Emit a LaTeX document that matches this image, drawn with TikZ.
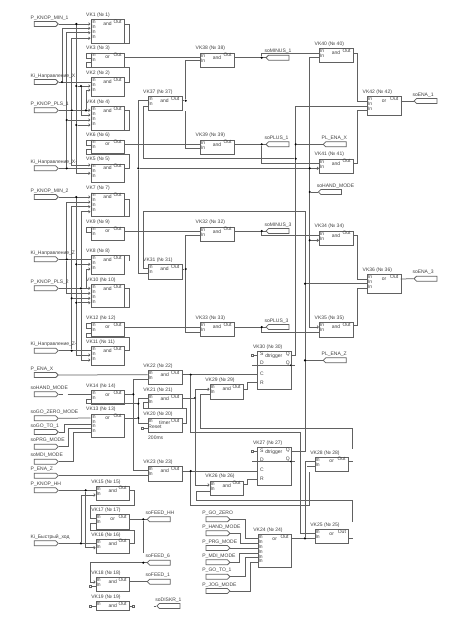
\documentclass[tikz,border=0pt]{standalone}
\usepackage{fontspec}
\setmainfont{Liberation Sans}
\usetikzlibrary{shapes.symbols,arrows.meta,backgrounds}
\definecolor{ln}{gray}{0.38}
\definecolor{tx}{gray}{0.25}
\tikzset{
  bx/.style={draw=ln,line width=.75pt,inner sep=0pt,anchor=north west},
  tt/.style={font=\fontsize{5}{5}\selectfont,text=tx,inner sep=0pt,anchor=west},
  w/.style={draw=ln,line width=.75pt},
  wa/.style={w,-{Straight Barb[length=1.4pt,width=2.6pt]}},
  dd/.style={circle,fill=black,inner sep=0pt,minimum size=2.4pt},
  sq/.style={rectangle,draw=ln,fill=white,line width=.6pt,inner sep=0pt,minimum size=2.2pt},
  sgi/.style={signal,signal to=east,draw=ln,line width=.75pt,inner sep=0pt,minimum height=5pt},
  sgo/.style={signal,signal to=west,draw=ln,line width=.75pt,inner sep=0pt,minimum height=5pt},
}
% name,x0,y0,x1,y1,title,type,pins,outy
\newcommand{\blk}[9]{%
  \pgfmathsetmacro{\bw}{#4-#2}\pgfmathsetmacro{\bh}{#5-#3}%
  \pgfmathsetmacro{\bmx}{#2+17}%
  \node[bx,minimum width=\bw pt,minimum height=\bh pt] (#1) at (#2,#3) {};
  \node[tt] (#1-t) at ({#2-4.5},{#3-4}) {#6};
  \node[tt,anchor=center] (#1-k) at (\bmx,{#3+4.7}) {#7};
  \node[tt,anchor=east] (#1-ou) at ({#4-2.2},{#3+2.3}) {Out};
  \coordinate (#1-o) at (#4,#9);
  \foreach \p [count=\n] in {#8}{%
    \coordinate (#1-\n) at (#2,\p);
    \pgfmathsetmacro{\ry}{#3+2.7+4.9*(\n-1)}%
    \node[tt] (#1-in\n) at ({#2+.7},\ry) {In};
  }}
% name,x0,y0,x1,y1,title
\newcommand{\trig}[6]{%
  \pgfmathsetmacro{\bw}{#4-#2}\pgfmathsetmacro{\bh}{#5-#3}%
  \node[bx,minimum width=\bw pt,minimum height=\bh pt] (#1) at (#2,#3) {};
  \node[tt] (#1-t) at ({#2-4.5},{#3-4}) {#6};
  \node[tt] (#1-ts) at ({#2+2.5},{#3+3.2}) {S};
  \node[tt,anchor=center] (#1-tk) at ({#2+16.5},{#3+4.8}) {dtrigger};
  \node[tt,anchor=east] (#1-tq) at ({#4-.8},{#3+3}) {Q};
  \node[tt] (#1-td) at ({#2+2.5},{#3+12.2}) {D};
  \node[tt,anchor=east] (#1-tqb) at ({#4-.8},{#3+12.2}) {Q};
  \node[tt] (#1-tc) at ({#2+2.5},{#3+22.3}) {C};
  \node[tt] (#1-tr) at ({#2+2.5},{#3+31.3}) {R};
  \coordinate (#1-q) at (#4,{#3+4.5});
  \coordinate (#1-qb) at (#4,{#3+14.2});
  \coordinate (#1-c) at (#2,{#3+23.7});
  \coordinate (#1-r) at (#2,{#3+31.7});
  \coordinate (#1-s) at (#2,{#3+4.3});
  \coordinate (#1-ll) at ({#2-5.3},{#3+14.2});
  \coordinate (#1-lr) at ({#4+4.3},{#3+14.2});
  \node[sq] (#1-sq) at ({#2-5.3},{#3+4.3}) {};
  \node[dd,minimum size=1.8pt] (#1-dq) at (#1-qb) {};
}
% input signal: name, x-centre, y, text
\newcommand{\sigi}[4]{\node[sgi,minimum width=24pt] (#1) at (#2,#3) {};
  \node[tt] (#1-l) at ({#2-14.5},{#3-6}) {#4};}
\newcommand{\sigo}[4]{\node[sgo,minimum width=23pt] (#1) at (#2,#3) {};
  \node[tt] (#1-l) at ({#2-14.5},{#3-6}) {#4};}
\newcommand{\dt}[3]{\node[dd] (#1) at (#2,#3) {};}
\begin{document}
\begin{tikzpicture}[x=1pt,y=-1pt]
\useasboundingbox (0,0) rectangle (458,621);
% ---- blocks
\blk{vk1}{90.5}{19}{124}{43}{VK1 (№ 1)}{and}{24,28.3,32.7,38.3}{24}
\blk{vk3}{90.5}{52.5}{124}{66.5}{VK3 (№ 3)}{or}{53.5,58.5}{57.3}
\blk{vk2}{90.5}{77}{124}{96}{VK2 (№ 2)}{and}{82,86,90}{82.3}
\blk{vk4}{90.5}{106}{124}{130}{VK4 (№ 4)}{and}{110.3,115,120,125}{110.3}
\blk{vk6}{90.5}{139.5}{124}{153}{VK6 (№ 6)}{or}{140.5,145}{144.3}
\blk{vk5}{90.5}{163.5}{124}{182}{VK5 (№ 5)}{and}{165,168.3,173.3}{168.3}
\blk{vk7}{90.5}{192.5}{124}{216}{VK7 (№ 7)}{and}{197,202,206.7,211.7}{199.3}
\blk{vk9}{90.5}{226.5}{124}{240}{VK9 (№ 9)}{or}{227.5,232.5}{231}
\blk{vk8}{90.5}{255}{124}{274}{VK8 (№ 8)}{and}{259.3,264.3,269}{255.5}
\blk{vk10}{90.5}{284}{124}{307}{VK10 (№ 10)}{and}{288.3,293.3,298.3,302.7}{288.3}
\blk{vk12}{90.5}{322}{124}{336}{VK12 (№ 12)}{or}{323,328}{327}
\blk{vk11}{90.5}{346}{124}{365}{VK11 (№ 11)}{and}{350.7,355,360}{350}
\blk{vk37}{147.5}{96}{181.7}{110.3}{VK37 (№ 37)}{and}{100,106}{100.7}
\blk{vk38}{200}{52.7}{234}{66.7}{VK38 (№ 38)}{and}{57.3,60.7}{57.7}
\blk{vk39}{200}{139.7}{234}{153.7}{VK39 (№ 39)}{and}{144.3,148.7}{144.3}
\blk{vk31}{147.5}{264.3}{181.7}{278.7}{VK31 (№ 31)}{and}{268.7,273.3}{269}
\blk{vk32}{200}{226.7}{234}{240.7}{VK32 (№ 32)}{and}{231,235.7}{231}
\blk{vk33}{200}{322.3}{234}{336.3}{VK33 (№ 33)}{and}{327,332}{327}
\blk{vk40}{319}{48}{353}{62.3}{VK40 (№ 40)}{and}{53,57.7}{53}
\blk{vk42}{367}{96.3}{400.7}{115.3}{VK42 (№ 42)}{or}{101,106,110.3}{101}
\blk{vk41}{319}{158.7}{353}{173}{VK41 (№ 41)}{and}{163.3,168.3}{163.3}
\blk{vk34}{319}{230.7}{353}{245}{VK34 (№ 34)}{and}{235.7,240.3}{235.7}
\blk{vk36}{367}{274}{400.7}{293.3}{VK36 (№ 36)}{or}{279,283.7,288.3}{279}
\blk{vk35}{319}{322.3}{353}{336.5}{VK35 (№ 35)}{and}{327,332}{325}
\trig{vk30}{257.3}{351}{290.7}{389}{VK30 (№ 30)}
\trig{vk27}{257.3}{447.3}{290.7}{485}{VK27 (№ 27)}
\blk{vk28}{314.7}{456.7}{348}{470.7}{VK28 (№ 28)}{or}{461.7,466.7}{461.7}
\blk{vk25}{314.7}{529.3}{348.3}{543.3}{VK25 (№ 25)}{or}{533.3,538.3}{538.3}
\blk{vk24}{257.7}{534}{291}{567.3}{VK24 (№ 24)}{or}{538.3,543,548,553.3,557.7,562.3}{538.3}
\blk{vk22}{147.7}{370.3}{181.7}{384.3}{VK22 (№ 22)}{and}{374.7,379.3}{374.7}
\blk{vk21}{147.7}{394.3}{181.7}{408.3}{VK21 (№ 21)}{and}{398,402.5}{398}
\blk{vk20}{147.7}{418.3}{181.7}{432.3}{VK20 (№ 20)}{timer}{423}{423.3}
\node[tt] (vk20-rs) at (148.2,426.6) {Reset};
\node[tt] (vk20-ms) at (148,437.5) {200ms};
\blk{vk23}{147.7}{466.3}{181.7}{480.7}{VK23 (№ 23)}{and}{470.7,475.7}{471}
\blk{vk14}{90.5}{390}{124}{404}{VK14 (№ 14)}{or}{394.3,399}{394.3}
\blk{vk13}{90.5}{413.7}{124}{437.3}{VK13 (№ 13)}{or}{418,424,428,432}{418}
\blk{vk29}{209.7}{384.3}{243}{399}{VK29 (№ 29)}{and}{389.3,394.3}{389.3}
\blk{vk26}{209.7}{480.7}{243}{495.3}{VK26 (№ 26)}{and}{485,491}{484}
\blk{vk15}{95.7}{485.7}{129}{500}{VK15 (№ 15)}{and}{490.3,495}{490.3}
\blk{vk17}{95.7}{514.3}{129}{529}{VK17 (№ 17)}{or}{518,523.3}{519.3}
\blk{vk16}{95.7}{538.7}{129}{552.7}{VK16 (№ 16)}{and}{543.3,547.7}{543.3}
\blk{vk18}{95.7}{577}{129}{591.3}{VK18 (№ 18)}{and}{582,586.5}{581.7}
\blk{vk19}{95.7}{601}{129}{610.3}{VK19 (№ 19)}{and}{606}{606}
% ---- signals
\sigi{pm1}{45}{24}{P\_KNOP\_MIN\_1}
\sigi{kx1}{45}{82}{Ki\_Направление\_X}
\sigi{pp1}{45}{110.3}{P\_KNOP\_PLS\_1}
\sigi{kx2}{45}{168.3}{Ki\_Направление\_X-}
\sigi{pm2}{45}{197}{P\_KNOP\_MIN\_2}
\sigi{kz1}{45}{259.3}{Ki\_Направление\_Z}
\sigi{pp2}{45}{288.3}{P\_KNOP\_PLS\_2}
\sigi{kz2}{45}{350.7}{Ki\_Направление\_Z-}
\sigi{pex}{45}{375}{P\_ENA\_X}
\sigi{shm}{45}{394.3}{soHAND\_MODE}
\sigi{sgz}{45}{418.3}{soGO\_ZERO\_MODE}
\sigi{sgt}{45}{432}{soGO\_TO\_1}
\sigi{spr}{45}{446.7}{soPRG\_MODE}
\sigi{smd}{45}{461.7}{soMDI\_MODE}
\sigi{pez}{45}{475.7}{P\_ENA\_Z}
\sigi{phh}{45}{490.3}{P\_KNOP\_HH}
\sigi{kib}{45}{543.3}{Ki\_Быстрый\_ход}
\sigi{pgz}{216.7}{519.3}{P\_GO\_ZERO}
\sigi{phm}{216.7}{533.3}{P\_HAND\_MODE}
\sigi{ppr}{216.7}{548}{P\_PRG\_MODE}
\sigi{pmd}{216.7}{562.3}{P\_MDI\_MODE}
\sigi{pgt}{216.7}{576.7}{P\_GO\_TO\_1}
\sigi{pjg}{216.7}{591}{P\_JOG\_MODE}
\sigo{sm1}{278.8}{57.7}{soMINUS\_1}
\sigo{sp1}{278.8}{144.3}{soPLUS\_1}
\sigo{sm3}{278.8}{231}{soMINUS\_3}
\sigo{sp3}{278.8}{327}{soPLUS\_3}
\sigo{pl1}{336}{144.3}{PL\_ENA\_X}
\sigo{pl3}{336}{360.3}{PL\_ENA\_Z}
\sigo{sh2}{331.2}{192}{soHAND\_MODE}
\sigo{se1}{426.8}{101}{soENA\_1}
\sigo{se3}{426.8}{278.7}{soENA\_3}
\sigo{sfh}{160}{519.3}{soFEED\_HH}
\sigo{sf6}{160}{562.7}{soFEED\_6}
\sigo{sf1}{160}{581.7}{soFEED\_1}
\sigo{sdk}{169.7}{606}{soDISKR\_1}
% ---- free ends, dots and test squares
\coordinate (c37) at (185.7,111);
\coordinate (chm) at (67.7,394.3);
\coordinate (cd1) at (143.3,553.3);
\coordinate (cdk) at (153.5,606);
\coordinate (c28) at (352.7,449);
\coordinate (c25) at (352.7,521.7);
\coordinate (c26) at (309.7,471.5);
\dt{a1}{76.3}{24}\dt{a2}{62}{82}\dt{a3}{66.7}{168.3}\dt{a4}{71.7}{110.3}
\dt{a5}{76.3}{86}\dt{a6}{81}{86}\dt{a7}{86}{110.3}\dt{a8}{66.7}{120}\dt{a9}{76.3}{125}
\dt{b1}{76.3}{197}\dt{b2}{66.7}{259.3}\dt{b3}{71.7}{350.7}\dt{b4}{81}{288.3}
\dt{b5}{76.3}{264.3}\dt{b7}{71.7}{298.3}\dt{b8}{76.3}{302.7}
\dt{d37}{185.7}{100.7}\dt{d31}{185.7}{269}
\dt{e1}{138.3}{168.3}\dt{e2}{295.7}{158.7}\dt{e3}{309.7}{168.3}\dt{e4}{295.7}{144.3}
\dt{e5}{309.7}{192}\dt{e6}{309.7}{240.3}\dt{e7}{305}{283.7}\dt{e8}{305}{360.3}
\dt{m1}{261.7}{57.7}\dt{m2}{261.7}{144.3}\dt{m3}{261.7}{231}\dt{m4}{261.7}{327}
\dt{f1}{133.3}{394.3}\dt{f2}{138.3}{403.7}\dt{f3}{138.3}{418}
\dt{f4}{195}{398}\dt{f5}{190.7}{374.7}\dt{f6}{190.7}{471}\dt{f7}{305}{538.3}
\dt{g1}{85.7}{490.3}\dt{g2}{81}{543.3}\dt{g3}{143.3}{519.3}\dt{g4}{143.3}{562.7}
\node[sq] (q20) at (142,428) {};
\node[sq] (q18) at (90,586.5) {};
\node[sq] (q19) at (90,606) {};
\node[sq] (q19o) at (133.5,606) {};
% ---- wires
\begin{scope}[on background layer]
\fill[white] (0,0) rectangle (458,621);
\draw[wa] (pm1.east) -- (vk1-1);
\draw[wa] (a1) |- (vk5-3);
\draw[wa] (a2) |- (vk1-2);
\draw[wa] (a3) |- (vk1-3);
\draw[wa] (a4) |- (vk1-4);
\draw[wa] (a4) |- (vk5-1);
\draw[w] (kx1.east) -- (vk2-1);
\draw[wa] (a5) -- (vk2-2);
\draw[wa] (a6) |- (vk4-2);
\draw[wa] (pp1.east) -- (vk4-1);
\draw[wa] (a7) |- (vk2-3);
\draw[wa] (a8) -- (vk4-3);
\draw[wa] (a9) -- (vk4-4);
\draw[w] (kx2.east) -- (vk5-2);
\draw[w] (vk1-o) -- ++(5,0) |- (vk1.south east);
\draw[w] (vk3-1) -- ++(-4.5,0) |- (vk3-2);
\draw[w] (vk2-o) -- ++(5,0) |- (86,67.7) -- (86,62.5) -- (90.5,62.5);
\draw[w] (vk4-o) -- ++(5,0) |- (vk4.south east);
\draw[w] (vk6-1) -- ++(-4.5,0) |- (vk6-2);
\draw[w] (vk5-o) -- ++(5,0) |- (86,154.3) -- (86,149.5) -- (90.5,149.5);
% second group
\draw[wa] (pm2.east) -- (vk7-1);
\draw[wa] (b1) |- (vk11-2);
\draw[wa] (b2) |- (vk7-2);
\draw[wa] (b2) |- (vk10-2);
\draw[wa] (b3) |- (vk7-3);
\draw[wa] (b4) |- (vk7-4);
\draw[wa] (b4) |- (vk11-3);
\draw[w] (kz1.east) -- (vk8-1);
\draw[wa] (b5) -- (vk8-2);
\draw[wa] (86,288.3) |- (vk8-3);
\draw[wa] (pp2.east) -- (vk10-1);
\draw[wa] (b7) -- (vk10-3);
\draw[wa] (b8) -- (vk10-4);
\draw[w] (kz2.east) -- (vk11-1);
\draw[w] (vk7-o) -- ++(5,0) |- (vk7.south east);
\draw[w] (vk9-1) -- ++(-4.5,0) |- (vk9-2);
\draw[w] (vk8-o) -- ++(5,0) -- ++(0,5);
\draw[w] (vk10-o) -- ++(5,0) |- (vk10.south east);
\draw[w] (vk12-1) -- ++(-4.5,0) |- (vk12-2);
\draw[w] (vk11-o) -- ++(5,0) |- (86,337) -- (86,333) -- (90.5,333);
% centre
\draw[w] (vk3-o) -- (vk38-1);
\draw[w] (vk37-o) -- (d37);
\draw[w] (d37) |- (vk38-2);
\draw[w] (c37) |- (vk39-2);
\draw[w] (vk6-o) -- (vk39-1);
\draw[w] (vk37-2) -| (143,158.7) -- (e2);
\draw[w] (vk37-1) -| (e1);
\draw[w] (e1) |- (vk31-2);
\draw[wa] (e1) -- (vk41-2);
\draw[w] (vk31-o) -- (d31);
\draw[w] (d31) |- (vk32-2);
\draw[w] (d31) |- (vk33-2);
\draw[w] (vk9-o) -- (vk32-1);
\draw[w] (vk12-o) -- (vk33-1);
\draw[w] (vk27-q) -| (305,211.7) -- (143,211.7) |- (vk31-1);
\draw[w] (e7) -- (vk36-2);
\draw[w] (e8) -- (pl3.west);
\draw[w] (vk30-q) -| (295.7,106) -- (vk42-2);
\draw[w] (e4) -- (pl1.west);
\draw[w] (vk38-o) -- (sm1.west);
\draw[w] (m1) |- (vk40-1);
\draw[wa] (vk40-2) -| (309.7,327) -- (vk35-1);
\draw[w] (e5) -- (sh2.west);
\draw[wa] (e6) -- (vk34-2);
\draw[w] (vk39-o) -- (sp1.west);
\draw[w] (m2) |- (vk41-1);
\draw[w] (vk32-o) -- (sm3.west);
\draw[w] (m3) |- (vk34-1);
\draw[w] (vk33-o) -- (sp3.west);
\draw[w] (m4) |- (vk35-2);
\draw[w] (vk40-o) -- ++(4.3,0) |- (vk42-1);
\draw[w] (vk41-o) -- ++(4.3,0) |- (vk42-3);
\draw[w] (vk42-o) -- (se1.west);
\draw[w] (vk34-o) -- ++(4.3,0) |- (vk36-1);
\draw[w] (vk35-o) -- ++(4.3,0) |- (vk36-3);
\draw[w] (vk36-o) -- (se3.west);
% lower part
\draw[w] (pex.east) -- (vk22-1);
\draw[w] (vk22-2) -| (133.3,470.7) -- (vk23-1);
\draw[w] (shm.east) -- ++(4.7,0);
\draw[w] (chm) -- (vk14-1);
\draw[w] (vk14-o) -- (f1);
\draw[w] (vk13-o) -- (f3);
\draw[w] (vk21-1) -| (138.3,423) -- (vk20-1);
\draw[w] (vk14-2) -- ++(-4.5,0) |- (f2);
\draw[w] (vk20-o) -| (186.7,408.3) -- (143.3,408.3) |- (vk21-2);
\draw[w] (q20) -- (q20 -| vk20.west);
\draw[w] (vk21-o) -- (f4);
\draw[wa] (f4) |- (vk29-1);
\draw[wa] (f4) |- (vk26-1);
\draw[w] (vk22-o) -- (vk30-c);
\draw[w] (f5) |- (300.3,432.7) |- (vk25-1);
\draw[w] (vk23-o) -- (vk27-c);
\draw[w] (f6) |- (309.7,505) -- (c26);
\draw[w] (vk24-o) -- (vk25-2);
\draw[w] (vk28-1) -| (f7);
\draw[w] (vk28-2) -- ++(-7.7,0);
\draw[w] (vk29-2) -| (200,428) -- (352.7,428) -- (c28);
\draw[w] (vk28-o) -- ++(5,0);
\draw[w] (vk26-2) -| (196.7,500.7) -- (352.7,500.7) -- (c25);
\draw[w] (vk25-o) -- ++(5,0);
\draw[w] (vk29-o) -- ++(4.7,0) |- (vk30-r);
\draw[w] (vk26-o) -- ++(4.7,0) |- (vk27-r);
\draw[w] (pez.east) -- (vk23-2);
\draw[w] (vk30-sq) -- (vk30-s);
\draw[w] (vk27-sq) -- (vk27-s);
\draw[w] (vk30-ll) -- (vk30-lr);
\draw[w] (vk27-ll) -- (vk27-lr);
\draw[w] (sgz.east) -- (vk13-1);
\draw[w] (sgt.east) -- ++(5.7,0) |- (vk13-2);
\draw[w] (spr.east) -- ++(9.7,0) |- (vk13-3);
\draw[w] (smd.east) -- ++(14.7,0) |- (vk13-4);
\draw[w] (pgz.east) -- ++(15,0) |- (vk24-1);
\draw[w] (phm.east) -- ++(10,0) |- (vk24-2);
\draw[w] (ppr.east) -- (vk24-3);
\draw[w] (pmd.east) -- ++(9,0) |- (vk24-4);
\draw[w] (pgt.east) -- ++(15,0) |- (vk24-5);
\draw[w] (pjg.east) -- ++(20,0) |- (vk24-6);
\draw[w] (phh.east) -- (vk15-1);
\draw[w] (kib.east) -- (vk16-1);
\draw[wa] (g2) |- (vk15-2);
\draw[wa] (g1) |- (vk16-2);
\draw[w] (vk15-o) -- ++(5,0) |- (90.7,505) |- (vk17-1);
\draw[w] (vk16-o) -- ++(5,0) |- (90.7,530) |- (vk17-2);
\draw[w] (vk17-o) -- (sfh.west);
\draw[w] (g3) -- (cd1);
\draw[wa] (sf6.west) -- (90.7,562.7) |- (vk18-1);
\draw[w] (vk18-o) -- (sf1.west);
\draw[w] (q18) -- (vk18-2);
\draw[w] (q19) -- (vk19-1);
\draw[w] (vk19-o) -- (q19o);
\draw[w] (cdk) -- (sdk.west);
\end{scope}
\end{tikzpicture}
\end{document}
